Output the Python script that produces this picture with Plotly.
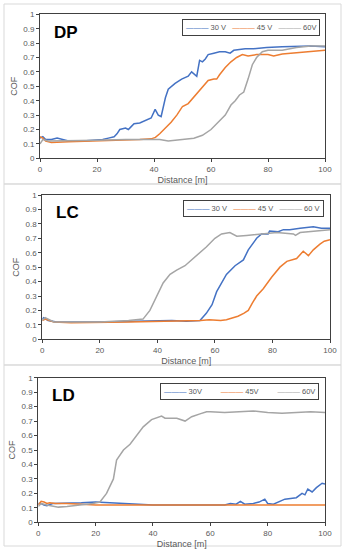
import plotly.graph_objects as go

# ---------------- data ----------------
# DP panel
dp_30_x = [0, 1, 2, 4, 6, 7, 10, 15, 20, 22, 24, 26, 27, 28, 30, 31, 32, 33, 35, 37, 38, 39, 40.4, 41.5, 42.5, 43.3, 44, 45, 47.4, 49.7, 52, 53.2, 54.4, 55, 56, 57, 58, 59, 61, 63, 65, 66.7, 68, 70, 72, 75, 77, 79.5, 85, 91, 95, 100]
dp_30_y = [0.14, 0.15, 0.13, 0.13, 0.14, 0.135, 0.12, 0.12, 0.125, 0.13, 0.14, 0.15, 0.17, 0.2, 0.21, 0.2, 0.22, 0.24, 0.245, 0.26, 0.27, 0.28, 0.34, 0.30, 0.29, 0.36, 0.42, 0.48, 0.52, 0.55, 0.57, 0.6, 0.58, 0.57, 0.68, 0.67, 0.69, 0.72, 0.73, 0.74, 0.74, 0.73, 0.75, 0.755, 0.76, 0.76, 0.765, 0.77, 0.775, 0.78, 0.78, 0.775]
dp_45_x = [0, 1, 2, 4, 10, 20, 30, 35, 39, 40.5, 42, 43.5, 46, 48, 50, 52, 55, 57, 59, 61, 62, 63, 65, 67, 69, 71, 73, 76, 80, 82, 85, 88, 93, 100]
dp_45_y = [0.15, 0.14, 0.12, 0.11, 0.115, 0.12, 0.125, 0.13, 0.135, 0.145, 0.17, 0.2, 0.25, 0.3, 0.36, 0.38, 0.45, 0.5, 0.54, 0.55, 0.55, 0.58, 0.63, 0.67, 0.7, 0.72, 0.71, 0.72, 0.72, 0.71, 0.725, 0.73, 0.74, 0.75]
dp_60_x = [0, 1, 3, 5, 10, 20, 30, 35, 42, 45, 50, 54, 57, 60, 62.5, 65, 67, 68.5, 70, 71.5, 73, 74.5, 76, 78, 80, 85, 90, 95, 100]
dp_60_y = [0.10, 0.13, 0.12, 0.12, 0.12, 0.125, 0.13, 0.13, 0.13, 0.12, 0.13, 0.14, 0.16, 0.2, 0.25, 0.3, 0.37, 0.4, 0.44, 0.46, 0.55, 0.65, 0.7, 0.74, 0.75, 0.75, 0.77, 0.78, 0.78]

# LC panel
lc_30_x = [0, 0.5, 2, 5, 20, 30, 40, 45, 50, 54.8, 57, 59, 60.6, 62, 64, 67, 69.9, 71.6, 73, 74.5, 76.2, 78.5, 79, 82, 83.8, 86, 89.6, 92, 94.2, 97, 100]
lc_30_y = [0.14, 0.15, 0.13, 0.12, 0.12, 0.125, 0.13, 0.13, 0.125, 0.13, 0.18, 0.24, 0.33, 0.38, 0.45, 0.51, 0.55, 0.62, 0.66, 0.7, 0.73, 0.73, 0.75, 0.745, 0.76, 0.76, 0.77, 0.775, 0.78, 0.77, 0.77]
lc_45_x = [0, 1, 4, 10, 30, 45, 55, 58, 60, 62, 64, 66.4, 68, 70, 71.6, 73, 74.5, 76.8, 79.7, 82.6, 85, 88.4, 90.7, 92.5, 94.2, 96.5, 98, 100]
lc_45_y = [0.13, 0.14, 0.12, 0.115, 0.12, 0.125, 0.13, 0.135, 0.13, 0.13, 0.135, 0.15, 0.16, 0.18, 0.2, 0.25, 0.3, 0.35, 0.43, 0.5, 0.54, 0.56, 0.61, 0.58, 0.62, 0.66, 0.68, 0.69]
lc_60_x = [0, 1, 4, 20, 30, 35, 37.4, 39.7, 42, 44.4, 46.7, 49.6, 51.9, 54.8, 57, 60, 62.3, 65.2, 67.6, 71, 75.7, 81.5, 87.3, 88, 89.6, 95, 100]
lc_60_y = [0.13, 0.15, 0.12, 0.12, 0.13, 0.14, 0.2, 0.3, 0.39, 0.45, 0.48, 0.51, 0.55, 0.6, 0.64, 0.7, 0.73, 0.74, 0.715, 0.72, 0.73, 0.74, 0.73, 0.72, 0.74, 0.75, 0.76]

# LD panel
ld_30_x = [0, 1, 2, 3, 5, 10, 15, 20, 25, 30, 33, 40, 50, 60, 63, 65, 67, 69, 70.5, 72, 75, 77, 79, 80, 82, 84, 86, 88, 90, 92, 93, 94, 95.5, 97, 99, 100]
ld_30_y = [0.13, 0.13, 0.12, 0.115, 0.13, 0.13, 0.135, 0.14, 0.135, 0.13, 0.125, 0.12, 0.12, 0.12, 0.125, 0.12, 0.13, 0.125, 0.145, 0.125, 0.13, 0.14, 0.16, 0.13, 0.125, 0.14, 0.16, 0.165, 0.17, 0.2, 0.19, 0.23, 0.21, 0.24, 0.27, 0.265]
ld_45_x = [0, 1, 2, 3, 4, 6, 10, 15, 20, 40, 60, 80, 100]
ld_45_y = [0.12, 0.145, 0.14, 0.13, 0.135, 0.13, 0.13, 0.125, 0.12, 0.12, 0.12, 0.12, 0.12]
ld_60_x = [0, 1, 3, 5, 7, 10, 15, 19, 21.5, 23.8, 25, 26.2, 27.3, 29.7, 32, 34.3, 36.6, 39.5, 42.4, 43, 44.2, 48.3, 51.2, 53.5, 56.4, 58.7, 60, 65, 70, 75, 80, 85, 90, 95, 100]
ld_60_y = [0.11, 0.13, 0.12, 0.11, 0.105, 0.11, 0.12, 0.13, 0.14, 0.2, 0.25, 0.3, 0.43, 0.5, 0.54, 0.6, 0.66, 0.71, 0.73, 0.735, 0.72, 0.72, 0.70, 0.73, 0.75, 0.765, 0.765, 0.76, 0.765, 0.77, 0.76, 0.755, 0.76, 0.765, 0.76]

panel_labels = ["DP", "LC", "LD"]
legend_names = [["30 V", "45 V", "60V"], ["30 V", "45 V", "60 V"], ["30V", "45V", "60V"]]
y_ticks = [0, 0.1, 0.2, 0.3, 0.4, 0.5, 0.6, 0.7, 0.8, 0.9, 1]
y_tick_text = ["0", "0.1", "0.2", "0.3", "0.4", "0.5", "0.6", "0.7", "0.8", "0.9", "1"]
x_ticks = [0, 20, 40, 60, 80, 100]

series = [
    [(dp_30_x, dp_30_y), (dp_45_x, dp_45_y), (dp_60_x, dp_60_y)],
    [(lc_30_x, lc_30_y), (lc_45_x, lc_45_y), (lc_60_x, lc_60_y)],
    [(ld_30_x, ld_30_y), (ld_45_x, ld_45_y), (ld_60_x, ld_60_y)],
]
colors = ["#4472C4", "#ED7D31", "#A5A5A5"]

# ---------------- layout geometry (pixels) ----------------
W, H = 346, 550
plot_px = [  # x0, x1, ytop, ybottom
    (40, 325, 14.3, 158.3),
    (42.3, 330, 195, 339.3),
    (38.3, 325, 377.7, 522.3),
]
legend_px = [  # right, top
    (320, 19),
    (324, 200),
    (319, 383),
]
legend_gap = [3, 3, 9]      # non-breaking spaces between legend entries
frames_px = [(4, 341, 4, 184), (4, 341, 184, 365), (4, 341, 365, 546)]

fx = lambda p: p / W
fy = lambda p: 1 - p / H

fig = go.Figure()
font_fam = "Liberation Sans, Arial, sans-serif"
tick_col = "#595959"

for i in range(3):
    sfx = "" if i == 0 else str(i + 1)
    for j, (xs, ys) in enumerate(series[i]):
        fig.add_trace(go.Scatter(
            x=xs, y=ys, mode="lines", name=legend_names[i][j],
            line=dict(color=colors[j], width=1.5),
            xaxis="x" + sfx, yaxis="y" + sfx, showlegend=False,
        ))
    x0, x1, yt, yb = plot_px[i]
    fig.layout["xaxis" + sfx] = dict(
        domain=[fx(x0), fx(x1)], anchor="y" + sfx, range=[0, 100], automargin=False,
        tickvals=x_ticks, ticks="outside", ticklen=3, tickcolor="#404040",
        showline=True, linecolor="#404040", linewidth=1, mirror=True,
        showgrid=False, zeroline=False,
        tickfont=dict(size=8, color=tick_col, family=font_fam),
        title=dict(text="Distance [m]", font=dict(size=9, color=tick_col, family=font_fam), standoff=3),
    )
    fig.layout["yaxis" + sfx] = dict(
        domain=[fy(yb), fy(yt)], anchor="x" + sfx, range=[0, 1], automargin=False,
        tickvals=y_ticks, ticktext=y_tick_text, ticks="outside", ticklen=3, tickcolor="#404040",
        showline=True, linecolor="#404040", linewidth=1, mirror=True,
        showgrid=False, zeroline=False,
        tickfont=dict(size=8, color=tick_col, family=font_fam),
        title=dict(text="COF", font=dict(size=9, color=tick_col, family=font_fam), standoff=4),
    )
    # compact boxed legend (sample line + name per series)
    gap = "&nbsp;" * legend_gap[i]
    parts = []
    for j in range(3):
        parts.append("<span style='color:%s'>\u2014\u2014\u2014</span>&nbsp;%s" % (colors[j], legend_names[i][j]))
    lr, lt = legend_px[i]
    fig.add_annotation(
        x=fx(lr), y=fy(lt), xref="paper", yref="paper",
        xanchor="right", yanchor="top", showarrow=False,
        text=gap.join(parts),
        font=dict(size=7.5, color=tick_col, family=font_fam),
        bordercolor="#404040", borderwidth=1, borderpad=3, bgcolor="white",
    )
    fig.add_annotation(
        x=fx(x0 + 12), y=fy(yt + 18), xref="paper", yref="paper",
        xanchor="left", yanchor="middle", showarrow=False,
        text="<b>" + panel_labels[i] + "</b>",
        font=dict(size=17, color="black", family=font_fam),
    )
    a, b, c, d = frames_px[i]
    fig.add_shape(type="rect", xref="paper", yref="paper",
                  x0=fx(a), x1=fx(b), y0=fy(d), y1=fy(c),
                  line=dict(color="#D9D9D9", width=1), layer="below")

fig.update_layout(
    width=W, height=H, margin=dict(l=0, r=0, t=0, b=0),
    paper_bgcolor="white", plot_bgcolor="white", showlegend=False,
)

fig.write_html("out.html", config={"displayModeBar": False},
               post_script="document.body.style.margin='0';document.body.style.overflow='hidden';")
